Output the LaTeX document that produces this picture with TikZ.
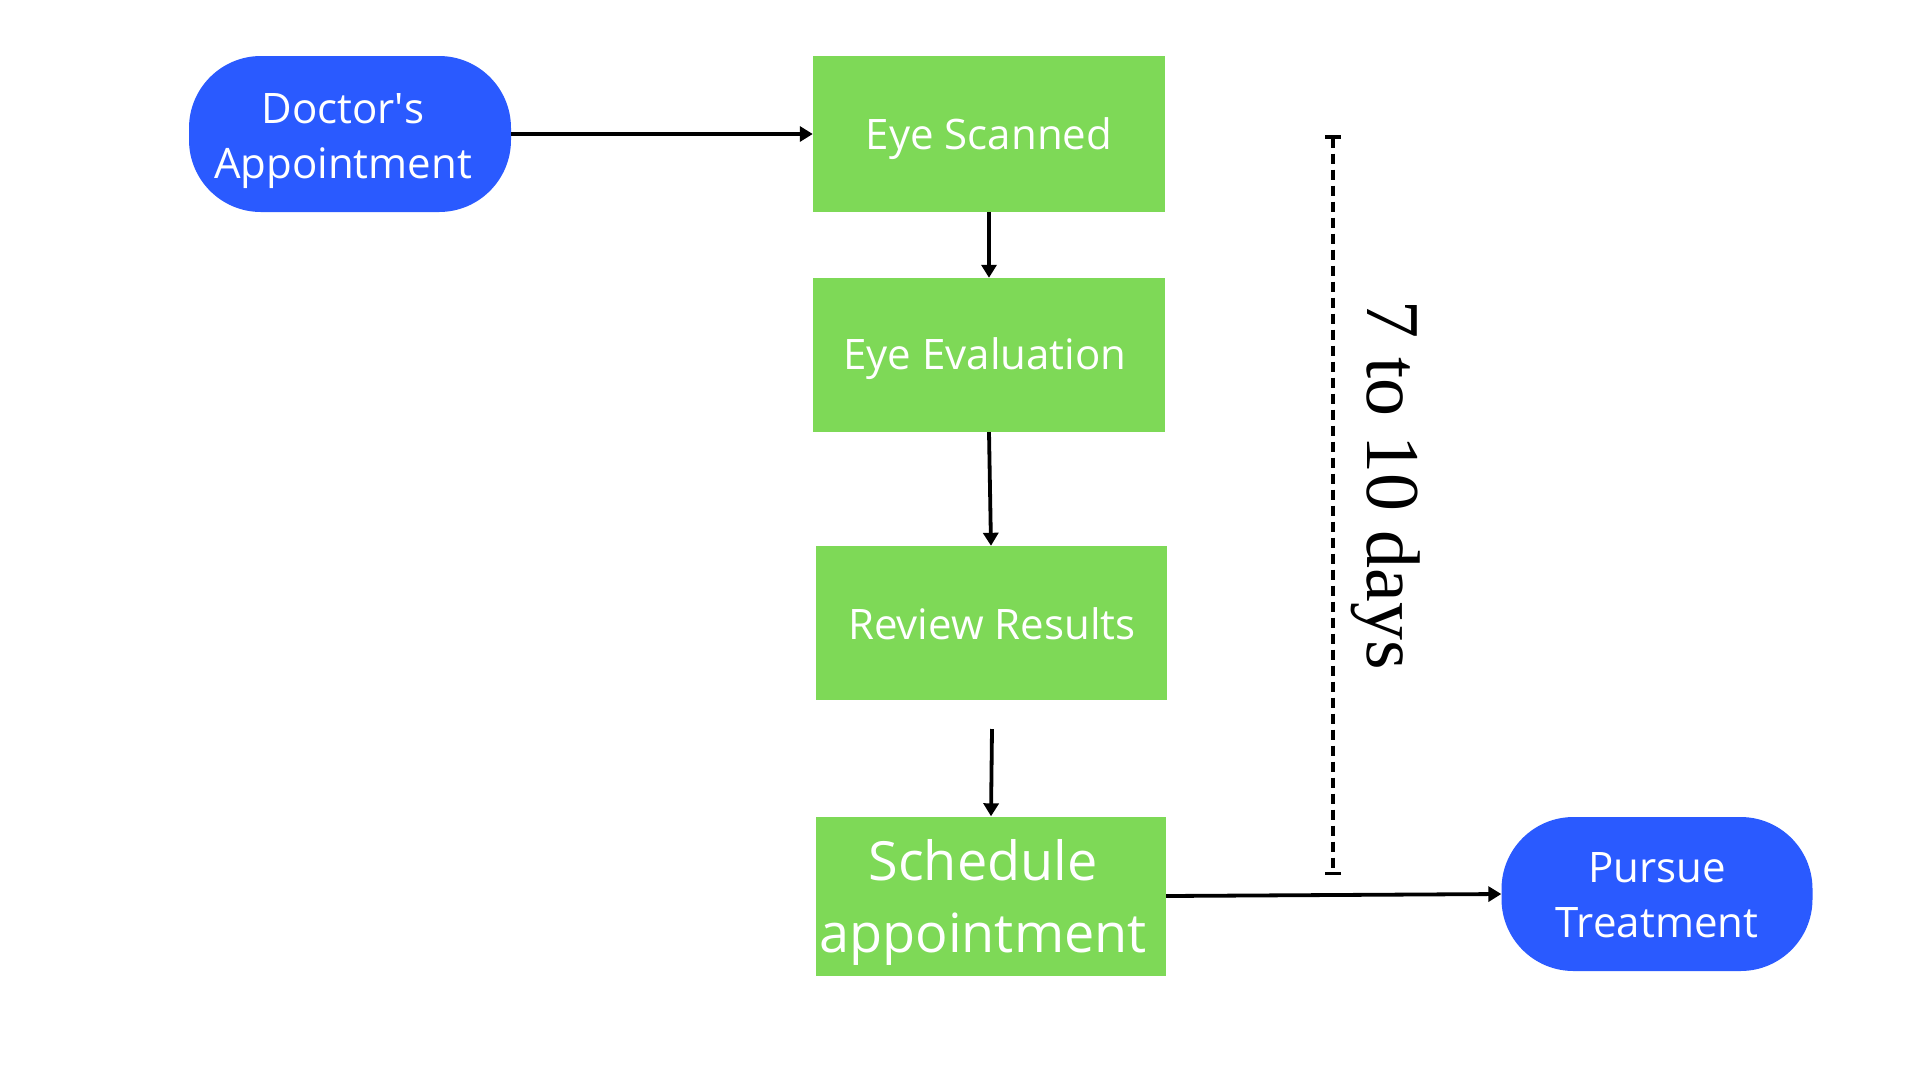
\documentclass[tikz,border=0pt]{standalone}
\usepackage{fontspec}
\setmainfont{Open Sans}
\newfontfamily\daysfont{Liberation Serif}
\usetikzlibrary{arrows.meta}
\definecolor{boxgreen}{HTML}{7ED957}
\definecolor{pillblue}{HTML}{2A5AFF}
\begin{document}
\begin{tikzpicture}[x=1pt,y=-1pt,
  stepbox/.style={rectangle, fill=boxgreen, minimum width=352pt, minimum height=156pt, inner sep=0pt},
  pill/.style={rectangle, rounded corners=72pt, fill=pillblue, minimum height=156pt, inner sep=0pt},
  lbl/.style={inner sep=0pt, text=white, font=\fontsize{42}{55}\selectfont, align=center},
  biglbl/.style={lbl, font=\fontsize{54}{72}\selectfont},
  flow/.style={line width=3.8pt, -{Triangle[length=13pt,width=15pt]}},
  span/.style={line width=3.5pt, dash pattern=on 10pt off 6pt, {Bar[width=16pt]}-{Bar[width=16pt]}}]
\fill[white] (0,0) rectangle (1920,1080);
\useasboundingbox (0,0) rectangle (1920,1080);
\node[pill, minimum width=322pt] (doc) at (350,134) {};
\node[stepbox] (scan) at (989,134) {};
\node[stepbox, minimum height=154pt] (eval) at (989,355) {};
\node[stepbox, minimum width=351pt, minimum height=154pt] (review) at (991,623) {};
\node[stepbox, minimum width=350pt, minimum height=159pt] (sched) at (991,896) {};
\node[pill, minimum width=311pt, minimum height=154pt] (pursue) at (1657,894) {};
\node[lbl, xshift=-7pt, yshift=-7pt] (docT) at (doc) {Doctor\textquotesingle s\\Appointment};
\node[lbl, yshift=-5pt] (scanT) at (scan) {Eye Scanned};
\node[lbl, xshift=-4pt, yshift=-4pt] (evalT) at (eval) {Eye Evaluation};
\node[lbl, xshift=1pt, yshift=-1pt] (reviewT) at (review) {Review Results};
\node[biglbl, xshift=-8pt, yshift=-6pt] (schedT) at (sched) {Schedule\\appointment};
\node[lbl, yshift=-1pt] (pursueT) at (pursue) {Pursue\\Treatment};
\node[rotate=-90, font=\daysfont\fontsize{76}{76}\selectfont] (days) at (1386,485) {7 to 10 days};
\coordinate (rs) at (992,729);
\coordinate (st) at (1333,135);
\coordinate (sb) at (1333,875);
\draw[flow] (doc.east) -- (scan.west);
\draw[flow] (scan.south) -- (eval.north);
\draw[flow] (eval.south) -- (review.north);
\draw[flow] (rs) -- (sched.north);
\draw[flow] (sched.east) -- (pursue.west);
\draw[span] (st) -- (sb);
\end{tikzpicture}
\end{document}
